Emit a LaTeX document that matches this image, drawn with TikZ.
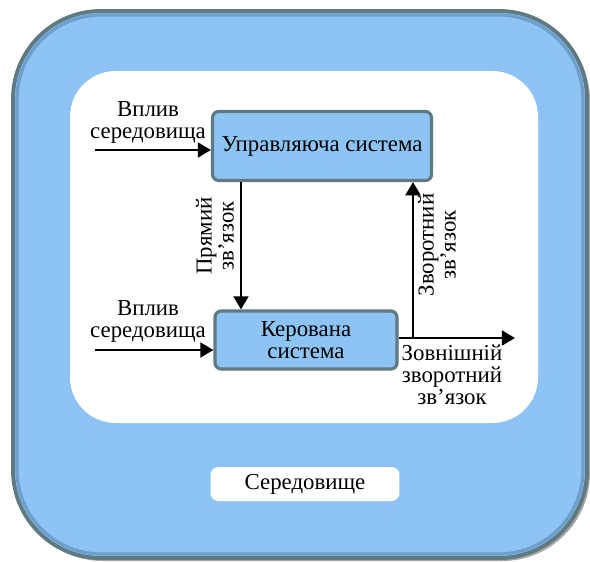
\documentclass[tikz,border=0pt]{standalone}
\usepackage{fontspec}
\setmainfont{Liberation Serif}
\usetikzlibrary{arrows.meta,positioning,shadows}
\definecolor{skyfill}{RGB}{142,196,244}
\definecolor{slateedge}{RGB}{96,122,130}
\definecolor{bevelblue}{RGB}{110,158,204}
\tikzset{>={Triangle[length=7.5pt,width=8.5pt]}}
\tikzset{
  sysbox/.style={draw=slateedge, line width=1.8pt, fill=skyfill, rounded corners=3.5pt,
    align=center, inner sep=0pt, drop shadow={opacity=0.3, shadow xshift=0.8pt, shadow yshift=-0.8pt}},
  flow/.style={->, line width=1.3pt},
  lbl/.style={align=center, font=\fontsize{13}{12.5}\selectfont},
}

\begin{document}
\begin{tikzpicture}[x=0.02cm,y=-0.02cm]
        \useasboundingbox (0,0) rectangle (590,561);
        % environment frame
        \fill[black!35, rounded corners=50pt] (15,13) rectangle (590,561);
        \draw[draw=slateedge, line width=2.2pt, fill=skyfill, rounded corners=50pt] (13,11) rectangle (587,558);
        \draw[draw=bevelblue, line width=1.8pt, rounded corners=48pt] (17,15) rectangle (583,554);
        \fill[white, rounded corners=26pt] (70,71) rectangle (538,423);
        \node[fill=white, rounded corners=4.5pt, minimum width=3.78cm, minimum height=0.68cm, lbl] (env) at (305,484) {Середовище};

        % systems
        \node[sysbox, minimum width=4.38cm, minimum height=1.38cm, lbl] (ctrl) at (322,146) {Управляюча система};
        \node[sysbox, minimum width=3.64cm, minimum height=1.16cm, lbl] (plant) at (306,340) {Керована\\система};

        % inputs
        \coordinate (inA) at (95,150);
        \coordinate (inB) at (95,350);
        \draw[flow] (inA) -- (inA -| ctrl.west);
        \draw[flow] (inB) -- (inB -| plant.west);
        \node[lbl] (envA) at (148,122) {Вплив\\середовища};
        \node[lbl] (envB) at (148,321) {Вплив\\середовища};

        % direct link
        \coordinate (dl) at (241,0);
        \draw[flow] (dl |- ctrl.south) -- (dl |- plant.north);
        \node[lbl, rotate=90] (direct) at (215,236) {Прямий\\зв’язок};

        % output and feedback
        \coordinate (out) at (515,338);
        \coordinate (fb) at (413,338);
        \draw[flow] (out -| plant.east) -- (out);
        \draw[flow] (fb) -- (fb |- ctrl.south);
        \node[lbl, rotate=90] (feedback) at (437,245) {Зворотний\\зв’язок};
        \node[lbl] (extfb) at (452,375) {Зовнішній\\зворотний\\зв’язок};
      \end{tikzpicture}
\end{document}
